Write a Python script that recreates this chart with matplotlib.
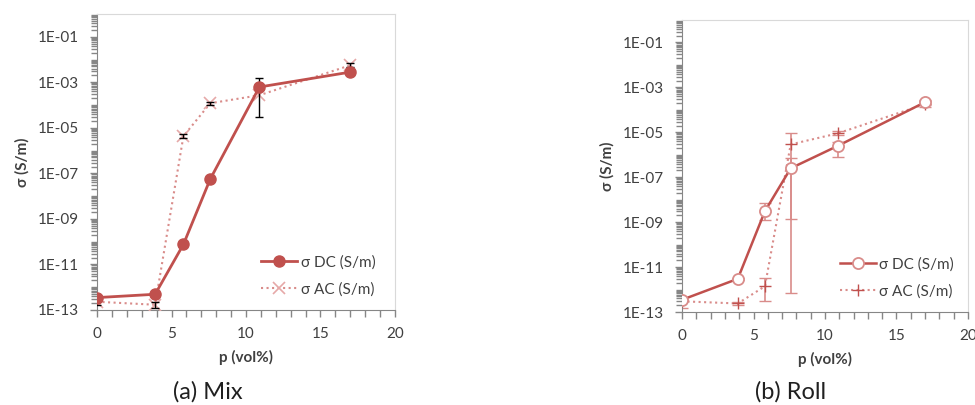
import numpy as np
import matplotlib
matplotlib.use("Agg")
import matplotlib.pyplot as plt
from matplotlib.ticker import FixedLocator, FuncFormatter, MultipleLocator, NullFormatter

plt.rcParams['font.family'] = ['Lato', 'DejaVu Sans']

# --- Mix ---
mix_p = [0, 3.9, 5.8, 7.6, 10.9, 17]
mix_dc = [3.5e-13, 4.9e-13, 7.6e-11, 5.6e-8, 6.2e-4, 2.8e-3]
mix_ac = [2.3e-13, 1.7e-13, 4.3e-6, 1.2e-4, 2.7e-4, 5.6e-3]
mix_ac_lo = [1.6e-13, 1.2e-13, 3.5e-6, 1.0e-4, 3.0e-5, 4.5e-3]
mix_ac_hi = [2.8e-13, 2.3e-13, 5.2e-6, 1.35e-4, 1.6e-3, 6.8e-3]

# --- Roll ---
roll_p = [0, 3.9, 5.8, 7.6, 10.9, 17]
roll_dc = [3.5e-13, 3.0e-12, 3.1e-9, 2.5e-7, 2.5e-6, 2.2e-4]
roll_dc_lo = [3.2e-13, 2.8e-12, 1.2e-9, 1.35e-9, 8.2e-7, 1.7e-4]
roll_dc_hi = [3.8e-13, 3.2e-12, 7.5e-9, 6.9e-7, 3.8e-6, 2.7e-4]
roll_ac = [3.0e-13, 2.4e-13, 1.4e-12, 2.9e-6, 9.0e-6, 1.8e-4]
roll_ac_lo = [1.5e-13, 2.0e-13, 3.0e-13, 7.3e-13, 7.5e-6, 1.4e-4]
roll_ac_hi = [3.5e-13, 2.8e-13, 3.3e-12, 9.0e-6, 1.1e-5, 2.4e-4]

major_y = [1e-13, 1e-11, 1e-9, 1e-7, 1e-5, 1e-3, 1e-1]

RED = '#C0504D'
LIGHT = '#D98C8A'
TXT = '#404040'
AXC = '#868686'


def err(y, lo, hi):
    y = np.array(y); lo = np.array(lo); hi = np.array(hi)
    return [y - lo, hi - y]


def style(ax):
    ax.set_yscale('log')
    ax.set_ylim(1e-13, 1)
    ax.set_xlim(0, 20)
    ax.yaxis.set_major_locator(FixedLocator(major_y))
    ax.yaxis.set_minor_locator(FixedLocator(
        [s * 10.0 ** e for e in range(-13, 0) for s in range(2, 10)]
        + [10.0 ** e for e in range(-12, 0, 2)]))
    ax.yaxis.set_major_formatter(FuncFormatter(
        lambda v, pos: "1E-%02d" % int(round(-np.log10(v)))))
    ax.yaxis.set_minor_formatter(NullFormatter())
    ax.xaxis.set_major_locator(MultipleLocator(5))
    ax.xaxis.set_minor_locator(MultipleLocator(1))
    ax.tick_params(which='both', colors=AXC, labelcolor=TXT, labelsize=11,
                   direction='out', length=5, width=1)
    ax.tick_params(axis='y', which='minor', length=4)
    ax.tick_params(axis='y', which='major', pad=8)
    ax.tick_params(axis='x', which='major', pad=7)
    for s in ['top', 'right']:
        ax.spines[s].set_color('#D9D9D9')
    for s in ['left', 'bottom']:
        ax.spines[s].set_color(AXC)
    ax.set_xlabel('p (vol%)', fontsize=11, fontweight='bold', color=TXT, labelpad=7)
    ax.set_ylabel('σ (S/m)', fontsize=11, fontweight='bold', color=TXT, labelpad=6)


fig = plt.figure(figsize=(9.75, 4.05), dpi=100)

ax1 = fig.add_axes([0.0995, 0.2346, 0.3056, 0.7309])
ax1.errorbar(mix_p, mix_ac, yerr=err(mix_ac, mix_ac_lo, mix_ac_hi), fmt='none',
             ecolor='black', elinewidth=1, capsize=3, zorder=4)
ax1.plot(mix_p, mix_ac, linestyle=':', color=LIGHT, linewidth=1.5, marker='x',
         markersize=9, markeredgecolor='#E6A9A8', markeredgewidth=1.2,
         label='σ AC (S/m)', zorder=3)
ax1.plot(mix_p, mix_dc, linestyle='-', color=RED, linewidth=2, marker='o',
         markersize=8, markerfacecolor=RED, markeredgecolor=RED,
         label='σ DC (S/m)', zorder=5)
style(ax1)
h, l = ax1.get_legend_handles_labels()
ax1.legend(h[::-1], l[::-1], loc='lower right', bbox_to_anchor=(0.98, 0.0),
           frameon=False, fontsize=11, labelcolor=TXT, handlelength=2.4,
           handletextpad=0.2, labelspacing=0.8)

ax2 = fig.add_axes([0.6995, 0.2296, 0.2933, 0.721])
ax2.errorbar(roll_p, roll_ac, yerr=err(roll_ac, roll_ac_lo, roll_ac_hi), fmt='none',
             ecolor=LIGHT, elinewidth=1.2, capsize=4, zorder=2)
ax2.errorbar(roll_p, roll_dc, yerr=err(roll_dc, roll_dc_lo, roll_dc_hi), fmt='none',
             ecolor=LIGHT, elinewidth=1.2, capsize=4, zorder=2)
ax2.plot(roll_p, roll_ac, linestyle=':', color=LIGHT, linewidth=1.5, marker='+',
         markersize=9, markeredgecolor=RED, markeredgewidth=1.0,
         label='σ AC (S/m)', zorder=3)
ax2.plot(roll_p, roll_dc, linestyle='-', color=RED, linewidth=1.8, marker='o',
         markersize=8, markerfacecolor='white', markeredgecolor=LIGHT,
         markeredgewidth=1.3, label='σ DC (S/m)', zorder=5)
style(ax2)
h, l = ax2.get_legend_handles_labels()
ax2.legend(h[::-1], l[::-1], loc='lower right', bbox_to_anchor=(1.0, 0.0),
           frameon=False, fontsize=11, labelcolor=TXT, handlelength=2.4,
           handletextpad=0.2, labelspacing=0.8)

fig.text(208 / 975, 1 - 392 / 405, '(a) Mix', fontsize=17, color='#202020',
         ha='center', va='center')
fig.text(791 / 975, 1 - 392 / 405, '(b) Roll', fontsize=17, color='#202020',
         ha='center', va='center')

fig.savefig('out.png', dpi=100)
